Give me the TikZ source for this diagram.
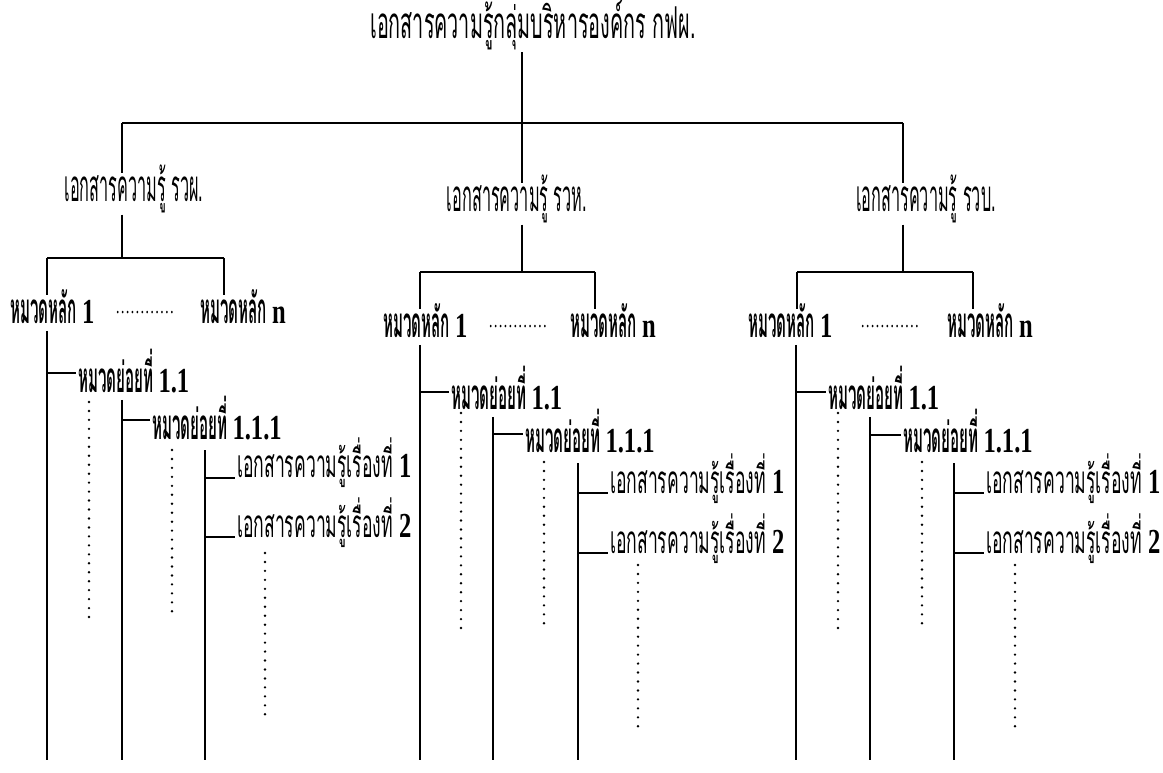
\documentclass[tikz,border=0pt]{standalone}
\usepackage{fontspec}
\usepackage{tikz}
\newfontfamily\titlefont[Script=Thai,FakeStretch=0.45]{Loma}
\newfontfamily\unitfont[Script=Thai,FakeStretch=0.37]{Loma}
\newfontfamily\labelfont[Script=Thai,FakeStretch=0.36]{Loma}
\newfontfamily\docfont[Script=Thai,FakeStretch=0.455]{Loma}
\newfontfamily\numfont[FakeStretch=0.7]{Liberation Serif}
\newcommand{\Nm}[1]{{\numfont\bfseries\fontsize{20}{22}\selectfont #1}}
\tikzstyle{TreeLine}=[black,line width=1.1pt]
\tikzstyle{DotLine}=[black,line width=1.5pt,line cap=round,dash pattern=on 0pt off 5.1pt]
\tikzstyle{TitleNode}=[inner sep=1pt,font=\titlefont\fontsize{25}{28}\selectfont]
\tikzstyle{UnitNode}=[inner sep=1pt,text height=15pt,text depth=6pt,font=\unitfont\fontsize{25}{28}\selectfont]
\tikzstyle{MainNode}=[inner sep=1pt,anchor=west,text height=15pt,text depth=3pt,font=\labelfont\bfseries\fontsize{24}{26}\selectfont]
\tikzstyle{GapNode}=[inner sep=0pt,anchor=west,font=\numfont\fontsize{12}{14}\selectfont]
\tikzstyle{SubNode}=[MainNode]
\tikzstyle{DocNode}=[inner xsep=1pt,inner ysep=1pt,anchor=base west,text height=13pt,text depth=4pt,font=\docfont\fontsize{22}{24}\selectfont]

\begin{document}
\begin{tikzpicture}[x=0.02cm,y=-0.02cm]
        \useasboundingbox(0,0)rectangle(1163,773);
        \coordinate(bottom)at(0,760);
        \node[TitleNode](title)at(533,25){เอกสารความรู้กลุ่มบริหารองค์กร กฟผ.};
        \coordinate(barL)at(122,123);
        \coordinate(barM)at(522,123);
        \coordinate(barR)at(903,123);
        \node[UnitNode](u1)at(134,194){เอกสารความรู้ รวผ.};
        \node[UnitNode](u2)at(517,204){เอกสารความรู้ รวห.};
        \node[UnitNode](u3)at(926,204){เอกสารความรู้ รวบ.};
        \draw[TreeLine](barL)--(barR);
        \draw[TreeLine](title.south -| barM)--(u2.north -| barM);
        \draw[TreeLine](barL)--(u1.north -| barL);
        \draw[TreeLine](barR)--(u3.north -| barR);

        \coordinate(h1)at(122,258);
        \coordinate(h1L)at(47,258);
        \coordinate(h1R)at(224,258);
        \node[MainNode](m11)at(8,313){หมวดหลัก \Nm{1}};
        \node[GapNode](e1)at(115,313){…………};
        \node[MainNode](m1n)at(198,313){หมวดหลัก \Nm{n}};
        \draw[TreeLine](u1.south -| h1)--(h1);
        \draw[TreeLine](h1L)--(h1R);
        \draw[TreeLine](h1L)--(h1L |- m11.north);
        \draw[TreeLine](h1R)--(h1R |- m1n.north);

        \coordinate(h2)at(522,272);
        \coordinate(h2L)at(420,272);
        \coordinate(h2R)at(595,272);
        \node[MainNode](m21)at(381,327){หมวดหลัก \Nm{1}};
        \node[GapNode](e2)at(488,327){…………};
        \node[MainNode](m2n)at(568,327){หมวดหลัก \Nm{n}};
        \draw[TreeLine](u2.south -| h2)--(h2);
        \draw[TreeLine](h2L)--(h2R);
        \draw[TreeLine](h2L)--(h2L |- m21.north);
        \draw[TreeLine](h2R)--(h2R |- m2n.north);

        \coordinate(h3)at(903,272);
        \coordinate(h3L)at(797,272);
        \coordinate(h3R)at(973,272);
        \node[MainNode](m31)at(746,327){หมวดหลัก \Nm{1}};
        \node[GapNode](e3)at(860,327){…………};
        \node[MainNode](m3n)at(945,327){หมวดหลัก \Nm{n}};
        \draw[TreeLine](u3.south -| h3)--(h3);
        \draw[TreeLine](h3L)--(h3R);
        \draw[TreeLine](h3L)--(h3L |- m31.north);
        \draw[TreeLine](h3R)--(h3R |- m3n.north);

        \coordinate(k11)at(47,373);
        \coordinate(k12)at(122,420);
        \coordinate(v13)at(205,450);
        \node[SubNode](s11)at(76,382){หมวดย่อยที่ \Nm{1.1}};
        \node[SubNode](s12)at(150,429){หมวดย่อยที่ \Nm{1.1.1}};
        \node[DocNode](d11)at(235,478){เอกสารความรู้เรื่องที่ \Nm{1}};
        \node[DocNode](d12)at(235,537){เอกสารความรู้เรื่องที่ \Nm{2}};
        \draw[TreeLine](m11.south -| k11)--(k11 |- bottom);
        \draw[TreeLine](k11)--(k11 -| s11.west);
        \draw[TreeLine](s11.south -| k12)--(k12 |- bottom);
        \draw[TreeLine](k12)--(k12 -| s12.west);
        \draw[TreeLine](v13)--(v13 |- bottom);
        \draw[TreeLine](d11.base west -| v13)--(d11.base west);
        \draw[TreeLine](d12.base west -| v13)--(d12.base west);
        \draw[DotLine](89,402)--(89,621);
        \draw[DotLine](172,450)--(172,616);
        \draw[DotLine](265,553)--(265,719);

        \coordinate(k21)at(420,392);
        \coordinate(k22)at(493,434);
        \coordinate(v23)at(578,463);
        \node[SubNode](s21)at(449,399){หมวดย่อยที่ \Nm{1.1}};
        \node[SubNode](s22)at(523,442){หมวดย่อยที่ \Nm{1.1.1}};
        \node[DocNode](d21)at(608,493){เอกสารความรู้เรื่องที่ \Nm{1}};
        \node[DocNode](d22)at(608,553){เอกสารความรู้เรื่องที่ \Nm{2}};
        \draw[TreeLine](m21.south -| k21)--(k21 |- bottom);
        \draw[TreeLine](k21)--(k21 -| s21.west);
        \draw[TreeLine](s21.south -| k22)--(k22 |- bottom);
        \draw[TreeLine](k22)--(k22 -| s22.west);
        \draw[TreeLine](v23)--(v23 |- bottom);
        \draw[TreeLine](d21.base west -| v23)--(d21.base west);
        \draw[TreeLine](d22.base west -| v23)--(d22.base west);
        \draw[DotLine](461,413)--(461,632);
        \draw[DotLine](544,462)--(544,628);
        \draw[DotLine](638,565)--(638,731);

        \coordinate(k31)at(796,392);
        \coordinate(k32)at(870,435);
        \coordinate(v33)at(954,463);
        \node[SubNode](s31)at(826,399){หมวดย่อยที่ \Nm{1.1}};
        \node[SubNode](s32)at(901,442){หมวดย่อยที่ \Nm{1.1.1}};
        \node[DocNode](d31)at(984,493){เอกสารความรู้เรื่องที่ \Nm{1}};
        \node[DocNode](d32)at(984,553){เอกสารความรู้เรื่องที่ \Nm{2}};
        \draw[TreeLine](m31.south -| k31)--(k31 |- bottom);
        \draw[TreeLine](k31)--(k31 -| s31.west);
        \draw[TreeLine](s31.south -| k32)--(k32 |- bottom);
        \draw[TreeLine](k32)--(k32 -| s32.west);
        \draw[TreeLine](v33)--(v33 |- bottom);
        \draw[TreeLine](d31.base west -| v33)--(d31.base west);
        \draw[TreeLine](d32.base west -| v33)--(d32.base west);
        \draw[DotLine](838,413)--(838,632);
        \draw[DotLine](922,462)--(922,628);
        \draw[DotLine](1015,565)--(1015,731);
    \end{tikzpicture}
\end{document}
